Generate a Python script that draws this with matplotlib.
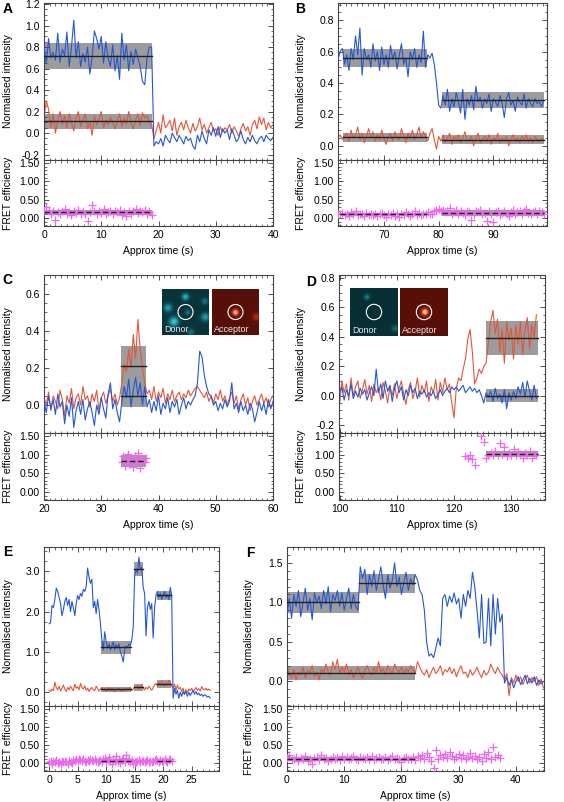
import numpy as np
import matplotlib
matplotlib.use('Agg')
import matplotlib.pyplot as plt
from matplotlib.ticker import MultipleLocator, FormatStrFormatter
from matplotlib.colors import LinearSegmentedColormap
from matplotlib.patches import Circle

plt.rcParams['font.family'] = ['Liberation Sans', 'DejaVu Sans']
plt.rcParams['font.size'] = 7.5

W, H = 564, 802
BLUE = '#2457d6'
RED = '#e4553b'
MAG = '#ec68ec'
BOX = '#9c9c9c'

# ---------------- panel A ----------------
a_t0, a_dt = 0.0, 0.4
a_don = [0.80, 0.65, 0.88, 0.70, 0.75, 0.68, 0.93, 0.66, 0.78, 0.72,
         0.94, 0.62, 0.80, 1.05, 0.70, 0.85, 0.62, 0.74, 0.66, 0.80,
         0.55, 0.70, 0.95, 0.88, 0.78, 0.90, 0.65, 0.85, 0.70, 0.62,
         0.82, 0.58, 0.72, 0.50, 0.93, 0.68, 0.82, 0.58, 0.76, 0.64,
         0.78, 0.70, 0.62, 0.48, 0.45, 0.70, 0.80, 0.80, -0.12, -0.08,
         -0.10, -0.05, -0.12, -0.02, -0.06, -0.09, 0.00, -0.04, -0.08, -0.02,
         -0.06, -0.10, -0.03, -0.07, -0.05, -0.12, -0.15, -0.02, -0.08, 0.02,
         -0.05, -0.10, 0.03, -0.02, 0.05, -0.03, 0.06, -0.04, 0.04, 0.00,
         0.03, -0.06, 0.04, -0.02, -0.08, -0.05, 0.02, -0.06, -0.10, -0.04,
         -0.08, -0.02, -0.07, -0.10, -0.05, -0.03, -0.08, -0.02, -0.05, -0.07, -0.04]
a_acc = [0.15, 0.30, 0.22, 0.05, 0.18, 0.00, 0.12, 0.20, 0.08, 0.16,
         0.05, 0.18, 0.10, 0.02, 0.14, 0.20, 0.06, 0.12, 0.18, 0.04,
         0.10, -0.02, 0.16, 0.08, 0.13, 0.20, 0.05, 0.12, 0.08, 0.15,
         0.10, 0.04, 0.12, 0.18, 0.06, 0.14, 0.08, 0.20, 0.10, 0.04,
         0.12, 0.18, 0.07, 0.19, 0.14, 0.16, 0.10, 0.08, -0.05, 0.02,
         0.10, 0.00, 0.17, 0.05, 0.08, 0.12, 0.02, 0.14, -0.02, 0.06,
         0.10, 0.03, 0.12, 0.05, 0.00, 0.09, 0.02, 0.06, 0.14, 0.03,
         0.08, 0.00, 0.05, 0.10, 0.02, 0.04, -0.02, 0.06, 0.01, 0.05,
         0.03, 0.08, 0.00, 0.06, 0.02, -0.03, 0.04, 0.09, 0.02, 0.06,
         -0.02, 0.08, 0.12, 0.04, 0.15, 0.08, 0.14, 0.03, 0.10, 0.05, 0.08]
a_fret_t0 = 0.0
a_fret = [0.18, 0.30, 0.22, 0.12, 0.20, -0.05, 0.15, 0.10, 0.18, 0.25,
          0.12, 0.16, 0.08, 0.20, 0.14, 0.22, 0.10, 0.18, 0.12, -0.08,
          0.16, 0.35, 0.20, 0.12, 0.18, 0.14, 0.24, 0.10, 0.16, 0.20,
          0.12, 0.18, 0.15, 0.22, 0.08, 0.16, 0.04, 0.20, 0.12, 0.18,
          0.24, 0.14, 0.20, 0.16, 0.22, 0.12, 0.18, 0.08]
a_don_steps = [(0.0, 18.8, 0.72, 0.12)]
a_acc_steps = [(0.0, 18.8, 0.11, 0.07)]
a_fret_steps = [(0.0, 18.8, 0.15, 0.06)]

# ---------------- panel B ----------------
b_t0, b_dt = 61.6, 0.4
b_don = [0.55, 0.60, 0.62, 0.52, 0.58, 0.48, 0.62, 0.55, 0.70, 0.58,
         0.75, 0.45, 0.62, 0.55, 0.58, 0.50, 0.65, 0.54, 0.60, 0.48,
         0.63, 0.52, 0.58, 0.50, 0.64, 0.55, 0.60, 0.49, 0.58, 0.65,
         0.52, 0.56, 0.44, 0.60, 0.55, 0.62, 0.50, 0.58, 0.53, 0.73,
         0.50, 0.58, 0.56, 0.59, 0.52, 0.40, 0.26, 0.24, 0.32, 0.26,
         0.36, 0.22, 0.30, 0.25, 0.34, 0.28, 0.21, 0.36, 0.17, 0.30,
         0.26, 0.32, 0.23, 0.38, 0.28, 0.31, 0.24, 0.30, 0.27, 0.33,
         0.22, 0.30, 0.28, 0.25, 0.32, 0.27, 0.18, 0.30, 0.34, 0.26,
         0.29, 0.22, 0.31, 0.28, 0.26, 0.33, 0.24, 0.30, 0.27, 0.25,
         0.30, 0.27, 0.28, 0.25, 0.29]
b_acc = [0.05, 0.07, 0.04, 0.06, 0.08, 0.03, 0.10, 0.05, 0.07, 0.12,
         0.04, 0.08, 0.02, 0.06, 0.11, 0.05, 0.09, 0.03, 0.07, 0.04,
         0.10, 0.05, 0.01, 0.06, 0.08, 0.03, 0.09, 0.05, 0.04, 0.11,
         0.06, 0.02, 0.08, 0.05, 0.10, 0.04, 0.07, 0.12, 0.05, 0.09,
         0.06, 0.03, 0.08, 0.11, 0.04, -0.02, 0.06, 0.03, 0.07, 0.02,
         0.05, 0.08, 0.01, 0.06, 0.04, 0.07, 0.02, 0.05, 0.09, 0.03,
         0.04, 0.06, 0.00, 0.05, 0.08, 0.02, 0.04, 0.06, 0.03, 0.07,
         0.01, 0.05, 0.04, 0.08, 0.02, 0.05, 0.03, 0.06, 0.00, 0.04,
         0.07, 0.03, 0.05, 0.02, 0.06, 0.04, 0.07, 0.03, 0.05, 0.02,
         0.06, 0.04, 0.03, 0.05, 0.04]
b_fret_t0 = 61.6
b_fret = [0.12, 0.10, 0.14, 0.08, 0.12, 0.06, 0.15, 0.10, 0.20, 0.08,
          0.12, 0.10, 0.05, 0.14, 0.09, 0.12, 0.07, 0.11, 0.04, 0.10,
          0.13, 0.08, 0.02, 0.12, 0.09, 0.14, 0.06, 0.10, 0.03, 0.12,
          0.08, 0.15, 0.10, 0.06, 0.12, 0.20, 0.09, 0.13, 0.07, 0.10,
          0.12, 0.15, 0.10, 0.12, 0.18, 0.22,
          0.25, 0.18, 0.22, 0.15, 0.20, 0.28, 0.12, 0.16, 0.22, 0.10,
          0.18, 0.14, 0.08, 0.20, 0.15, -0.05, 0.12, 0.18, 0.16, 0.22,
          0.10, 0.14, -0.08, 0.18, 0.12, -0.12, 0.16, 0.20, 0.08, 0.14,
          0.18, 0.12, 0.05, 0.16, 0.22, 0.10, 0.15, 0.20, 0.12, 0.18,
          0.25, 0.14, 0.10, 0.16, 0.20, 0.12, 0.18, 0.15, 0.10]
b_don_steps = [(62.5, 77.9, 0.56, 0.06), (80.6, 99.2, 0.29, 0.05)]
b_acc_steps = [(62.5, 77.9, 0.055, 0.03), (80.6, 99.2, 0.04, 0.03)]
b_fret_steps = [(62.0, 77.9, 0.10, 0.03), (80.6, 99.2, 0.14, 0.08)]

# ---------------- panel C ----------------
c_t0, c_dt = 20.0, 0.4
c_don = [0.02, -0.04, 0.05, -0.02, 0.03, -0.05, 0.06, -0.01, 0.02, -0.10,
         0.00, -0.06, 0.04, -0.12, -0.03, 0.02, -0.05, 0.03, -0.08, -0.02,
         0.02, -0.04, -0.11, 0.00, -0.05, 0.04, -0.02, -0.07, 0.06, 0.12,
         -0.02, 0.03, -0.04, -0.09, 0.02, 0.10, 0.04, 0.14, -0.01, 0.08,
         0.15, 0.05, 0.12, 0.00, 0.10, -0.01, 0.03, -0.04, 0.02, -0.03,
         0.05, -0.05, 0.01, -0.02, 0.04, -0.04, 0.02, -0.01, 0.03, -0.05,
         0.00, 0.04, -0.02, 0.02, 0.00, 0.03, 0.05, 0.12, 0.29, 0.26,
         0.16, 0.10, 0.06, 0.05, 0.00, 0.02, -0.03, 0.01, -0.02, 0.03,
         -0.01, 0.02, 0.12, -0.02, 0.01, -0.04, 0.02, -0.03, 0.00, -0.05,
         0.01, -0.02, -0.09, -0.04, 0.02, -0.03, 0.01, -0.05, 0.03, -0.02, 0.02]
c_acc = [0.04, 0.00, 0.07, -0.03, 0.05, 0.02, -0.02, 0.08, 0.03, -0.06,
         0.05, 0.01, 0.09, -0.02, 0.04, 0.06, 0.00, 0.10, 0.03, 0.05,
         -0.01, 0.06, 0.02, 0.08, -0.03, 0.04, 0.07, 0.01, 0.05, 0.09,
         0.02, 0.06, 0.00, 0.04, 0.12, 0.22, 0.18, 0.30, 0.20, 0.38,
         0.25, 0.46, 0.30, 0.20, 0.12, 0.06, 0.08, 0.03, 0.10, 0.02,
         0.07, 0.04, 0.09, 0.01, 0.06, 0.03, 0.08, 0.02, 0.05, 0.07,
         0.03, 0.06, 0.04, 0.08, 0.05, 0.07, 0.09, 0.10, 0.08, 0.06,
         0.04, 0.07, 0.02, 0.05, 0.01, 0.06, 0.03, 0.08, 0.02, 0.05,
         0.00, 0.04, 0.07, 0.01, 0.05, -0.02, 0.03, 0.06, 0.00, 0.04,
         -0.03, 0.02, 0.05, 0.00, 0.03, 0.06, 0.01, 0.04, -0.01, 0.03, 0.05]
c_fret_t0, c_fret_dt = 33.6, 0.25
c_fret = [0.80, 0.95, 0.70, 0.88, 1.02, 0.75, 0.90, 0.82, 0.68, 0.95,
          0.85, 1.05, 0.78, 0.65, 0.92, 0.88, 0.80, 0.90]
c_don_steps = [(33.4, 37.9, 0.05, 0.06)]
c_acc_steps = [(33.4, 37.9, 0.21, 0.11)]
c_fret_steps = [(33.4, 37.9, 0.84, 0.16)]

# ---------------- panel D ----------------
d_t0, d_dt = 100.0, 0.4
d_don = [0.02, 0.06, -0.03, 0.04, 0.00, 0.08, -0.02, 0.03, -0.01, 0.05,
         0.01, 0.04, -0.03, 0.02, 0.06, 0.00, 0.18, 0.02, 0.08, -0.02,
         0.10, 0.03, 0.07, -0.04, 0.05, 0.10, 0.02, 0.06, -0.03, 0.04,
         0.00, 0.07, 0.02, 0.05, -0.02, 0.03, 0.01, 0.04, -0.01, 0.02,
         0.00, 0.03, -0.02, 0.01, 0.04, 0.00, 0.03, 0.05, 0.02, 0.06,
         0.04, 0.06, 0.03, 0.05, 0.07, 0.02, 0.04, 0.06, 0.03, 0.05,
         0.02, 0.04, 0.00, -0.05, 0.02, -0.01, 0.03, -0.04, 0.05, -0.02,
         0.01, -0.05, 0.04, -0.09, 0.02, -0.03, 0.03, -0.02, 0.06, 0.01,
         0.09, -0.01, 0.10, 0.03, -0.03, 0.07, -0.02]
d_acc = [-0.06, 0.10, 0.02, 0.08, -0.03, 0.12, 0.00, 0.06, 0.10, -0.02,
         0.04, 0.11, 0.01, 0.07, -0.04, 0.08, 0.02, 0.05, -0.03, 0.09,
         0.03, -0.05, 0.06, 0.00, 0.08, -0.02, 0.05, 0.10, 0.01, -0.06,
         0.04, 0.09, -0.02, 0.03, 0.12, -0.01, 0.07, 0.02, 0.10, -0.04,
         0.06, 0.02, 0.11, -0.03, 0.09, 0.02, 0.12, 0.04, 0.08, -0.05,
         -0.15, 0.05, 0.12, 0.10, 0.18, 0.25, 0.38, 0.45, 0.30, 0.08,
         0.12, 0.18, 0.15, 0.20, 0.22, 0.36, 0.50, 0.58, 0.42, 0.52,
         0.30, 0.45, 0.22, 0.50, 0.38, 0.46, 0.25, 0.48, 0.35, 0.50,
         0.28, 0.44, 0.53, 0.32, 0.48, 0.40, 0.55]
d_fret_t0 = 122.0
d_fret = [0.95, 0.90, 0.98, 0.88, 0.72, np.nan, np.nan, 1.50, 1.35, 0.92,
          1.00, 1.05, 0.98, 1.10, 1.00, 1.30, 1.02, 1.20, 0.95, 1.05,
          1.00, 1.15, 0.98, 1.08, 1.02, 0.92, 1.05, 0.98, 1.10, 0.90,
          1.02, 1.00]
d_don_steps = [(125.6, 134.6, 0.0, 0.045)]
d_acc_steps = [(125.6, 134.6, 0.39, 0.115)]
d_fret_steps = [(125.6, 134.6, 1.02, 0.08)]

# ---------------- panel E ----------------
e_t0, e_dt = 0.0, 0.25
e_don = [1.70, 1.72, 2.15, 2.10, 2.30, 2.58, 2.50, 2.35, 2.20, 1.90,
         2.05, 2.25, 2.35, 2.15, 2.30, 2.00, 2.25, 2.10, 1.90, 2.20,
         2.40, 2.30, 2.45, 2.38, 2.55, 2.50, 2.62, 3.08, 2.85, 2.70,
         2.80, 2.10, 2.25, 1.95, 2.30, 2.05, 1.70, 1.30, 1.05, 1.50,
         1.25, 1.10, 1.20, 1.05, 1.15, 1.25, 1.05, 1.18, 1.10, 1.20,
         1.00, 0.90, 0.75, 1.05, 1.15, 1.10, 1.20, 1.15, 1.30, 1.60,
         2.90, 3.05, 2.95, 3.35, 3.05, 3.10, 2.60, 2.45, 1.40, 2.10,
         2.25, 2.05, 2.20, 1.35, 2.10, 2.40, 2.50, 2.35, 2.45, 2.30,
         2.40, 2.50, 2.35, 2.42, 2.30, 2.60, 2.40, -0.15, 0.10, -0.05,
         0.05, -0.15, 0.00, -0.10, 0.02, -0.05, 0.03, -0.10, 0.00, -0.08,
         -0.02, 0.05, -0.05, 0.02, -0.06, -0.02, -0.08, -0.05, -0.10, -0.06,
         -0.08, -0.12, -0.10, -0.14]
e_acc = [0.05, 0.02, 0.08, 0.04, 0.25, 0.12, 0.06, 0.15, 0.03, 0.10,
         0.18, 0.08, 0.02, 0.12, 0.06, 0.15, 0.09, 0.04, 0.20, 0.10,
         0.14, 0.06, 0.22, 0.12, 0.08, 0.16, 0.05, 0.10, 0.02, 0.08,
         0.12, 0.06, 0.04, 0.15, 0.10, 0.03, 0.08, 0.12, 0.05, 0.09,
         0.02, 0.07, 0.12, 0.04, 0.10, 0.06, 0.01, 0.08, 0.05, 0.11,
         0.03, 0.07, 0.02, 0.09, 0.05, 0.10, 0.06, 0.12, 0.04, 0.08,
         0.14, 0.10, 0.16, 0.08, 0.12, 0.18, 0.10, 0.06, 0.12, 0.08,
         0.15, 0.10, 0.05, 0.12, 0.18, 0.22, 0.15, 0.25, 0.18, 0.28,
         0.20, 0.15, 0.24, 0.18, 0.30, 0.22, 0.15, 0.10, 0.20, 0.05,
         0.18, 0.08, 0.12, 0.02, 0.10, -0.05, 0.06, 0.00, 0.08, 0.04,
         0.10, 0.02, 0.06, 0.12, 0.05, 0.09, 0.03, 0.14, 0.08, 0.06,
         0.10, 0.05, 0.08, 0.04]
e_fret_t0 = 0.0
e_fret = [0.02, 0.05, -0.02, 0.06, 0.03, 0.08, 0.00, 0.04, -0.03, 0.05,
          0.02, 0.07, 0.03, -0.02, 0.06, 0.04, 0.01, 0.08, 0.05, 0.10,
          0.06, 0.12, 0.08, 0.05, 0.10, 0.07, 0.04, 0.09, 0.06, 0.11,
          0.08, 0.05, 0.10, 0.07, 0.03, 0.06, 0.08, 0.04, 0.10, 0.15,
          0.02, 0.08, 0.18, 0.05, -0.02, 0.10, 0.06, 0.20, 0.04, 0.12,
          0.01, 0.08, 0.15, 0.03, 0.22, 0.06, 0.10, 0.02, 0.08, -0.02,
          0.04, 0.02, 0.06, 0.08, 0.03, 0.05, 0.07, 0.02, 0.06, 0.09,
          0.04, 0.07, 0.03, 0.05, 0.08, 0.10, 0.06, 0.04, 0.09, 0.05,
          0.07, 0.12, 0.06, 0.04, 0.08, 0.10, 0.05]
e_don_steps = [(9.15, 14.3, 1.12, 0.16), (14.95, 16.5, 3.05, 0.18), (19.0, 21.45, 2.40, 0.12)]
e_acc_steps = [(9.15, 14.3, 0.07, 0.07), (14.95, 16.5, 0.12, 0.08), (19.0, 21.45, 0.20, 0.10)]
e_fret_steps = [(9.15, 14.3, 0.06, 0.06), (19.0, 21.45, 0.07, 0.04)]

# ---------------- panel F ----------------
f_t0, f_dt = 0.0, 0.4
f_don = [0.85, 1.05, 0.80, 1.10, 0.95, 1.15, 0.82, 1.00, 1.18, 0.90,
         1.05, 0.78, 1.12, 1.00, 1.08, 0.92, 1.15, 0.98, 1.20, 0.88,
         1.10, 1.02, 1.15, 0.95, 1.12, 0.90, 1.05, 1.18, 0.92, 1.10,
         0.95, 0.90, 1.45, 1.30, 1.42, 1.10, 1.35, 1.20, 1.40, 1.15,
         1.30, 1.45, 1.22, 1.05, 1.35, 1.18, 1.28, 1.50, 1.20, 1.32,
         1.10, 1.25, 1.38, 1.15, 1.30, 1.22, 1.35, 1.28, 1.15, 1.10,
         0.90, 0.50, 0.32, 0.35, 0.30, 0.42, 0.55, 0.45, 1.05, 1.10,
         0.95, 1.08, 1.00, 1.12, 0.98, 1.05, 0.80, 1.10, 0.95, 1.15,
         1.05, 1.38, 1.20, 0.90, 0.55, 1.10, 0.48, 0.50, 1.05, 0.45,
         1.10, 0.60, 1.05, 0.75, 0.85, -0.02, 0.05, -0.05, 0.02, -0.08,
         0.00, 0.06, -0.04, 0.02, 0.08, -0.03, 0.04, -0.02, 0.06, -0.05,
         0.02, -0.03, 0.00]
f_acc = [0.20, 0.10, 0.05, 0.15, 0.02, 0.12, 0.08, 0.18, 0.05, 0.14,
         0.10, 0.20, 0.06, 0.12, 0.02, 0.16, 0.10, 0.22, 0.12, 0.08,
         0.25, 0.15, 0.28, 0.10, 0.18, 0.12, 0.22, 0.08, 0.15, 0.05,
         0.12, 0.18, 0.10, 0.04, 0.15, 0.20, 0.12, 0.08, 0.18, 0.10,
         0.25, 0.12, 0.16, 0.08, 0.20, 0.14, 0.10, 0.22, 0.15, 0.12,
         0.18, 0.10, 0.16, 0.12, 0.20, 0.15, 0.10, 0.25, 0.18, 0.12,
         0.08, 0.15, 0.05, 0.12, 0.18, 0.10, 0.14, 0.20, 0.08, 0.15,
         0.12, 0.18, 0.10, 0.16, 0.06, 0.14, 0.20, 0.10, 0.12, 0.05,
         0.15, 0.08, 0.12, 0.18, 0.10, 0.05, 0.14, 0.08, 0.12, 0.22,
         0.15, 0.10, 0.18, 0.12, 0.08, 0.02, 0.10, -0.18, 0.05, -0.02,
         0.08, 0.00, 0.06, -0.04, 0.03, 0.08, -0.02, 0.05, 0.00, 0.06,
         -0.05, 0.03, -0.08]
f_fret_t0 = 0.0
f_fret = [0.15, 0.22, 0.08, 0.12, 0.18, 0.05, 0.14, 0.10, 0.20, 0.06,
          0.12, -0.02, 0.15, 0.18, 0.08, 0.22, 0.10, 0.14, 0.06, 0.12,
          0.18, 0.10, 0.15, 0.08, 0.20, 0.12, 0.16, 0.10, 0.14, 0.20,
          0.12, 0.08, 0.18, 0.14, 0.10, 0.16, 0.12, 0.20, 0.08, 0.14,
          0.18, 0.10, 0.12, 0.16, 0.08, 0.14, 0.20, 0.10, 0.15, 0.12,
          0.04, 0.14, 0.18, 0.10, 0.12, 0.16, 0.08, 0.20, 0.14, 0.22,
          0.10, 0.28, 0.18, 0.05, -0.15, 0.35, 0.12, 0.22, 0.18, 0.25,
          0.15, 0.30, 0.20, 0.12, 0.18, 0.25, 0.15, 0.22, 0.12, 0.18,
          0.28, 0.15, 0.20, 0.12, 0.18, 0.05, 0.25, 0.15, 0.32, 0.10,
          0.45, 0.18, 0.22, 0.15]
f_don_steps = [(0.0, 12.5, 1.00, 0.13), (12.6, 22.3, 1.24, 0.12)]
f_acc_steps = [(0.0, 22.3, 0.11, 0.085)]
f_fret_steps = [(0.0, 12.5, 0.11, 0.05), (12.6, 22.3, 0.10, 0.04)]

# inset spots (x, y from top, brightness, width)
c_donor_spots = [(0.50, 0.18, 0.6, 0.05), (0.12, 0.42, 0.5, 0.06), (0.25, 0.72, 0.7, 0.07),
                 (0.93, 0.62, 0.5, 0.06), (0.55, 0.52, 0.3, 0.04), (0.92, 0.28, 0.3, 0.05),
                 (0.62, 0.95, 0.3, 0.05)]
c_acc_spots = [(0.50, 0.52, 1.0, 0.045), (0.95, 0.62, 0.35, 0.05)]
d_donor_spots = [(0.35, 0.18, 0.35, 0.04), (0.95, 0.85, 0.25, 0.05)]
d_acc_spots = [(0.52, 0.50, 1.0, 0.05)]


def rect(l, r, t, b):
    return [l / W, 1 - b / H, (r - l) / W, (b - t) / H]


def style(ax, xmaj, xmin, ymaj, ymin, fmt):
    ax.xaxis.set_major_locator(MultipleLocator(xmaj))
    ax.xaxis.set_minor_locator(MultipleLocator(xmin))
    ax.yaxis.set_major_locator(MultipleLocator(ymaj))
    ax.yaxis.set_minor_locator(MultipleLocator(ymin))
    ax.yaxis.set_major_formatter(FormatStrFormatter(fmt))
    ax.tick_params(which='both', direction='in', top=True, right=True,
                   color='#333333', labelsize=7.5, pad=3)
    ax.tick_params(which='major', length=3.5, width=0.6)
    ax.tick_params(which='minor', length=1.8, width=0.5)
    for s in ax.spines.values():
        s.set_linewidth(0.8)
        s.set_color('#444444')


def boxes(ax, steps, dashed=False):
    for t0, t1, m, s in steps:
        ax.fill_between([t0, t1], m - s, m + s, color=BOX, lw=0, zorder=1)
        ls = (0, (4, 2)) if dashed else '-'
        ax.plot([t0, t1], [m, m], color='#222222', lw=1.0, ls=ls, zorder=4)


def spot_image(spots, bg):
    g = np.linspace(0, 1, 48)
    X, Y = np.meshgrid(g, g)
    img = np.full(X.shape, bg)
    for x, y, a, s in spots:
        img += a * np.exp(-((X - x) ** 2 + (Y - y) ** 2) / (2 * s ** 2))
    return np.clip(img, 0, 1)


cm_don = LinearSegmentedColormap.from_list('don', ['#03191d', '#1b8a96', '#5fe6f0'])
cm_acc = LinearSegmentedColormap.from_list('acc', ['#2a0604', '#c42a16', '#ffb8a0'])


def inset(fig, l, r, t, b, spots, bg, cmap, label):
    ax = fig.add_axes(rect(l, r, t, b))
    ax.imshow(spot_image(spots, bg), cmap=cmap, vmin=0, vmax=1,
              extent=(0, 1, 0, 1), origin='upper', interpolation='bilinear')
    ax.add_patch(Circle((0.5, 0.5), 0.16, fill=False, ec='white', lw=0.8))
    ax.text(0.05, 0.03, label, color='#e8e8e8', fontsize=6.5,
            transform=ax.transAxes, ha='left', va='bottom')
    ax.set_xticks([])
    ax.set_yticks([])
    for s in ax.spines.values():
        s.set_visible(False)


def panel(fig, letter, lx, ly, left, right, top, div, bottom, label_x,
          xlim, ylim, xmaj, xmin, ymaj, ymin, yfmt,
          t0, dt, don, acc, ft0, fdt, fret, dsteps, asteps, fsteps):
    ax1 = fig.add_axes(rect(left, right, top, div))
    ax2 = fig.add_axes(rect(left, right, div, bottom))
    t_d = t0 + dt * np.arange(len(don))
    t_a = t0 + dt * np.arange(len(acc))
    t_f = ft0 + fdt * np.arange(len(fret))

    boxes(ax1, dsteps)
    boxes(ax1, asteps)
    ax1.plot(t_a, acc, color=RED, lw=0.8, zorder=2)
    ax1.plot(t_d, don, color=BLUE, lw=0.8, zorder=3)
    ax1.set_xlim(*xlim)
    ax1.set_ylim(*ylim)
    style(ax1, xmaj, xmin, ymaj, ymin, yfmt)
    ax1.tick_params(labelbottom=False)
    ax1.set_ylabel('Normalised intensity', va='center')
    ax1.yaxis.set_label_coords((label_x - left) / (right - left), 0.5)

    boxes(ax2, fsteps, dashed=True)
    ax2.plot(t_f, fret, '+', color=MAG, ms=6, mew=0.9, zorder=3)
    ax2.set_xlim(*xlim)
    ax2.set_ylim(-0.22, 1.58)
    style(ax2, xmaj, xmin, 0.5, 0.1, '%.2f')
    ax2.set_ylabel('FRET efficiency', va='center')
    ax2.yaxis.set_label_coords((label_x - left) / (right - left), 0.5)
    ax2.set_xlabel('Approx time (s)', labelpad=4)

    fig.text(lx / W, 1 - ly / H, letter, fontsize=10, fontweight='bold',
             ha='center', va='center')
    return ax1, ax2


fig = plt.figure(figsize=(W / 100, H / 100), dpi=100)

panel(fig, 'A', 8, 9, 44, 273, 3, 160, 226, 8, (0, 40), (-0.25, 1.21), 10, 1, 0.2, 0.05, '%.1f',
      a_t0, a_dt, a_don, a_acc, a_fret_t0, 0.4, a_fret, a_don_steps, a_acc_steps, a_fret_steps)
panel(fig, 'B', 300, 9, 338, 547, 3, 160, 226, 301, (61.6, 99.8), (-0.09, 0.91), 10, 1, 0.2, 0.05, '%.1f',
      b_t0, b_dt, b_don, b_acc, b_fret_t0, 0.4, b_fret, b_don_steps, b_acc_steps, b_fret_steps)
panel(fig, 'C', 7, 280, 44, 273, 275, 433, 500, 8, (20, 60), (-0.15, 0.70), 10, 1, 0.2, 0.05, '%.1f',
      c_t0, c_dt, c_don, c_acc, c_fret_t0, c_fret_dt, c_fret, c_don_steps, c_acc_steps, c_fret_steps)
panel(fig, 'D', 311, 282, 339, 545, 275, 433, 500, 301, (99.9, 135.9), (-0.254, 0.82), 10, 1, 0.2, 0.05, '%.1f',
      d_t0, d_dt, d_don, d_acc, d_fret_t0, 0.4, d_fret, d_don_steps, d_acc_steps, d_fret_steps)
panel(fig, 'E', 8, 552, 44, 219, 547, 706, 771, 8, (-0.9, 29.8), (-0.34, 3.6), 5, 1, 1.0, 0.25, '%.1f',
      e_t0, e_dt, e_don, e_acc, e_fret_t0, 0.25, e_fret, e_don_steps, e_acc_steps, e_fret_steps)
panel(fig, 'F', 250, 553, 287, 544, 547, 706, 771, 249, (0, 44.9), (-0.31, 1.70), 10, 1, 0.5, 0.1, '%.1f',
      f_t0, f_dt, f_don, f_acc, f_fret_t0, 0.4, f_fret, f_don_steps, f_acc_steps, f_fret_steps)

inset(fig, 162, 209, 288, 336, c_donor_spots, 0.12, cm_don, 'Donor')
inset(fig, 212, 259, 288, 336, c_acc_spots, 0.15, cm_acc, 'Acceptor')
inset(fig, 350, 398, 288, 336, d_donor_spots, 0.10, cm_don, 'Donor')
inset(fig, 400, 448, 288, 336, d_acc_spots, 0.15, cm_acc, 'Acceptor')

fig.savefig('out.png', dpi=100)
